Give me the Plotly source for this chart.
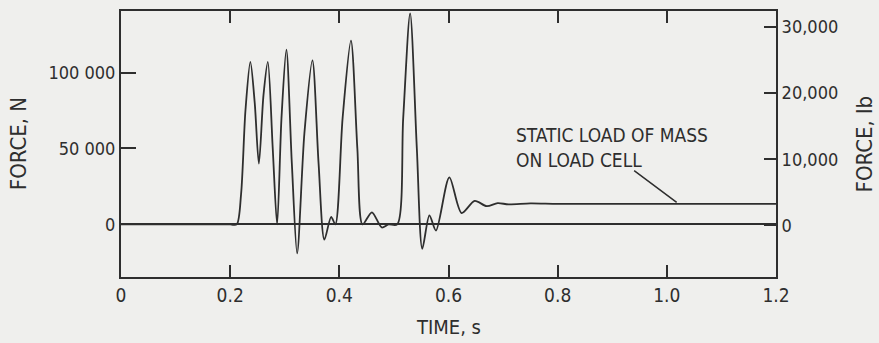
import plotly.graph_objects as go

time_s = [0, 0.2, 0.212, 0.22, 0.228, 0.237, 0.245, 0.2526, 0.261, 0.269, 0.278, 0.286,
          0.294, 0.303, 0.313, 0.3227, 0.336, 0.3507, 0.362, 0.3726, 0.385, 0.3927,
          0.406, 0.4213, 0.433, 0.4425, 0.4596, 0.4778, 0.49, 0.506, 0.517, 0.5297,
          0.542, 0.552, 0.565, 0.577, 0.6015, 0.624, 0.648, 0.67, 0.69, 0.71, 0.75,
          0.8, 0.9, 1.0, 1.1, 1.2]
force_n = [0, 0, 0, 20000, 75000, 107000, 80000, 40000, 85000, 107000, 50000, 0,
           70000, 115000, 40000, -19000, 60000, 108000, 40000, -10000, 5000, 0,
           70000, 121000, 50000, 0, 8000, -2000, 0, 0, 70000, 139000,
           50000, -16000, 6000, -4000, 31000, 7500, 15500, 12000, 14000, 13200, 13800,
           13500, 13600, 13500, 13600, 13500]

x_ticks = [0, 0.2, 0.4, 0.6, 0.8, 1.0, 1.2]
x_labels = ["0", "0.2", "0.4", "0.6", "0.8", "1.0", "1.2"]
yn_ticks = [0, 50000, 100000]
yn_labels = ["0", "50 000", "100 000"]
ylb_ticks = [0, 10000, 20000, 30000]
ylb_labels = ["0", "10,000", "20,000", "30,000"]

INK = "#2e2e2e"
BG = "#efefed"
FONT = "Liberation Sans Narrow, DejaVu Sans Condensed, sans-serif"

fig = go.Figure()
fig.add_trace(go.Scatter(x=time_s, y=force_n, mode="lines",
                         line=dict(color=INK, width=1.8, shape="spline", smoothing=0.8),
                         showlegend=False, hoverinfo="skip"))
fig.add_trace(go.Scatter(x=[0], y=[0], yaxis="y2", mode="markers",
                         marker=dict(opacity=0), showlegend=False, hoverinfo="skip"))

fig.update_layout(
    width=879, height=343,
    margin=dict(l=121, r=103, t=9, b=66),
    paper_bgcolor=BG, plot_bgcolor=BG,
    font=dict(family=FONT, size=19, color=INK),
    xaxis=dict(range=[0, 1.2], tickvals=x_ticks, ticktext=x_labels,
               ticks="inside", ticklen=12, tickwidth=1.5, tickcolor=INK,
               showline=True, linecolor=INK, linewidth=2, mirror="ticks",
               showgrid=False, zeroline=False, tickfont=dict(size=19)),
    yaxis=dict(range=[-34600, 140500], tickvals=yn_ticks, ticktext=yn_labels,
               ticks="inside", ticklen=15, tickwidth=1.5, tickcolor=INK,
               showline=True, linecolor=INK, linewidth=2,
               showgrid=False, zeroline=True, zerolinecolor=INK, zerolinewidth=1.8,
               tickfont=dict(size=18)),
    yaxis2=dict(range=[-7800, 32400], tickvals=ylb_ticks, ticktext=ylb_labels,
                overlaying="y", side="right",
                ticks="inside", ticklen=12, tickwidth=1.5, tickcolor=INK,
                showline=True, linecolor=INK, linewidth=2,
                showgrid=False, zeroline=False, tickfont=dict(size=18)),
    annotations=[
        dict(text="FORCE, N", xref="paper", yref="paper", x=-0.157, y=0.5,
             textangle=-90, showarrow=False, font=dict(size=22),
             xanchor="center", yanchor="middle"),
        dict(text="FORCE, lb", xref="paper", yref="paper", x=1.135, y=0.5,
             textangle=-90, showarrow=False, font=dict(size=22),
             xanchor="center", yanchor="middle"),
        dict(text="TIME, s", xref="paper", yref="paper", x=0.5, y=-0.187,
             showarrow=False, font=dict(size=20), xanchor="center", yanchor="middle"),
        dict(text="STATIC LOAD OF MASS<br>ON LOAD CELL", xref="x", yref="y",
             x=0.72, y=50600, showarrow=False, align="left",
             xanchor="left", yanchor="middle", font=dict(size=19)),
        dict(text="", xref="x", yref="y", x=1.018, y=14500,
             showarrow=True, ax=-44, ay=-33, arrowhead=0, arrowwidth=1.5,
             arrowcolor=INK),
    ],
)

fig.write_html("out.html")
